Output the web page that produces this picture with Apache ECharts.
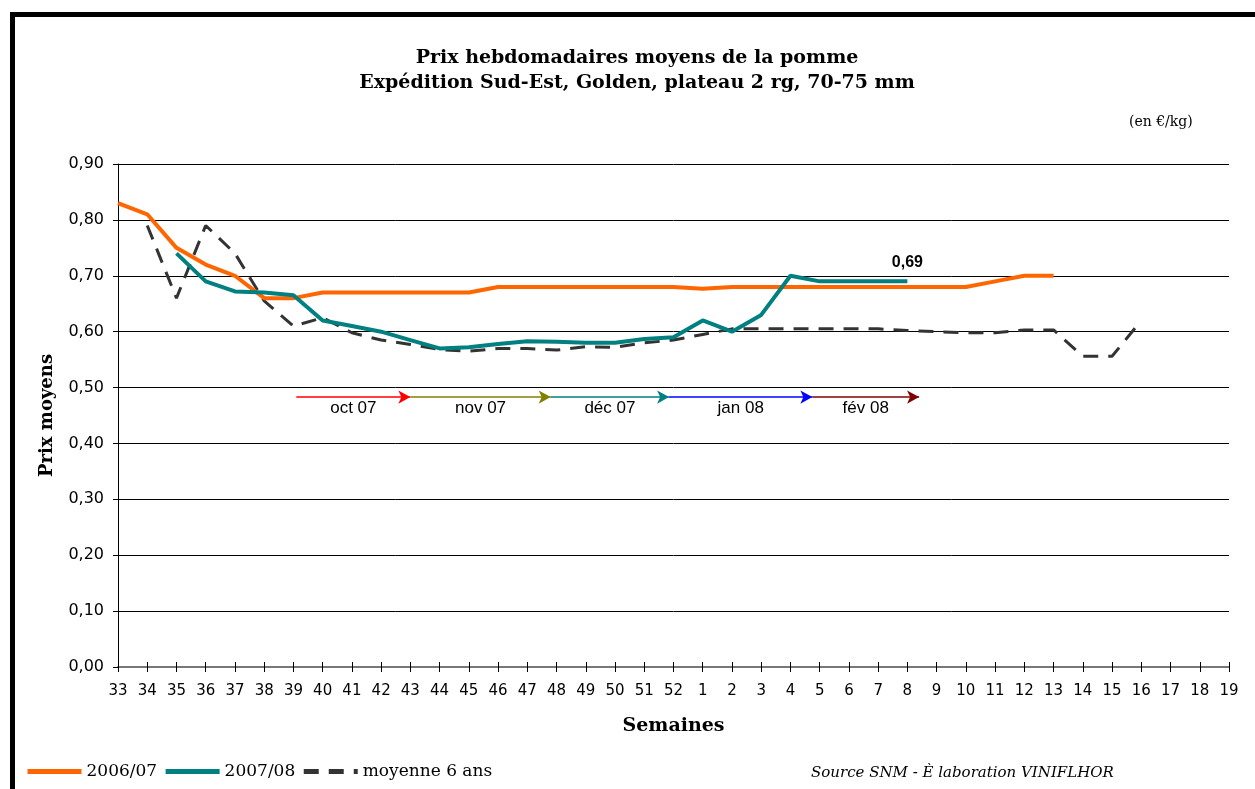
<!DOCTYPE html>
<html lang="fr">
<head>
  <meta charset="UTF-8">
  <title>Prix hebdomadaires moyens de la pomme</title>
  <script src="https://cdn.jsdelivr.net/npm/echarts@6/dist/echarts.min.js"></script>
  <style>
    body { margin: 0; padding: 0; background: #fff; }
    #chart { width: 1255px; height: 789px; }
  </style>
</head>
<body>
  <div id="chart"></div>
  <script>
    // semaines (axe x)
    const weeks = ['33','34','35','36','37','38','39','40','41','42','43','44','45','46','47','48','49','50','51','52',
      '1','2','3','4','5','6','7','8','9','10','11','12','13','14','15','16','17','18','19'];

    // prix en €/kg, null = pas de donnée
    const prix0607 = [0.83,0.81,0.75,0.72,0.70,0.66,0.66,0.67,0.67,0.67,0.67,0.67,0.67,0.68,0.68,0.68,0.68,0.68,0.68,0.68,
      0.677,0.68,0.68,0.68,0.68,0.68,0.68,0.68,0.68,0.68,0.69,0.70,0.70,null,null,null,null,null,null];
    const prix0708 = [null,null,0.74,0.69,0.672,0.67,0.665,0.62,0.61,0.60,0.585,0.57,0.572,0.578,0.583,0.582,0.58,0.58,0.587,0.59,
      0.62,0.60,0.63,0.70,0.69,0.69,0.69,0.69,null,null,null,null,null,null,null,null,null,null,null];
    const moyenne6 = [null,0.79,0.66,0.79,0.74,0.655,0.61,0.625,0.598,0.585,0.577,0.568,0.565,0.57,0.57,0.567,0.573,0.572,0.58,0.585,
      0.595,0.605,0.605,0.605,0.605,0.605,0.605,0.602,0.60,0.598,0.598,0.603,0.603,0.556,0.556,0.62,null,null,null];

    // flèches des mois (positions en index de semaine)
    const moisLabels = ['oct 07','nov 07','déc 07','jan 08','fév 08'];
    const moisDebut = [6.1, 10.0, 14.8, 18.85, 23.75];
    const moisFin = [10.0, 14.8, 18.85, 23.75, 27.4];
    const moisCouleurs = ['#ff0000','#808000','#008080','#0000ff','#800000'];
    const niveauFleches = 0.483;

    const toPairs = arr => arr.map((v, i) => [i, v]).filter(p => p[1] !== null);
    const fmtY = v => v.toFixed(2).replace('.', ',');

    const data0708 = toPairs(prix0708);
    const last0708 = data0708[data0708.length - 1];

    const markData = moisLabels.map((m, i) => [
      { name: m, coord: [moisDebut[i], niveauFleches], lineStyle: { color: moisCouleurs[i] }, itemStyle: { color: moisCouleurs[i] } },
      { coord: [moisFin[i], niveauFleches] }
    ]);

    const chart = echarts.init(document.getElementById('chart'));

    const xBase = {
      type: 'value', min: 0, max: 38, interval: 1,
      splitLine: { show: false }
    };

    chart.setOption({
      animation: false,
      title: [{
        text: '(en €/kg)',
        left: 1124, top: 110,
        textStyle: { fontFamily: 'DejaVu Serif', fontWeight: 'normal', fontSize: 14, color: '#000' }
      }, {
        text: 'Source SNM - È laboration VINIFLHOR',
        left: 806, top: 761,
        textStyle: { fontFamily: 'DejaVu Serif', fontStyle: 'italic', fontWeight: 'normal', fontSize: 15, color: '#000' }
      }],
      legend: {
        left: 25, top: 763, padding: 0,
        itemWidth: 54, itemHeight: 18, itemGap: 6,
        itemStyle: { opacity: 0 },
        lineStyle: { width: 5 },
        textStyle: { fontFamily: 'DejaVu Serif', fontSize: 17, color: '#000' },
        data: ['2006/07', '2007/08', 'moyenne 6 ans']
      },
      graphic: [
        { type: 'rect', shape: { x: 10, y: 12, width: 1245, height: 5 }, style: { fill: '#000' } },
        { type: 'rect', shape: { x: 10, y: 12, width: 5, height: 777 }, style: { fill: '#000' } },
        {
          type: 'text', x: 637, y: 46,
          style: {
            text: 'Prix hebdomadaires moyens de la pomme\nExpédition Sud-Est, Golden, plateau 2 rg, 70-75 mm',
            textAlign: 'center', fill: '#000', lineHeight: 25,
            font: 'bold 19px "DejaVu Serif"'
          }
        }
      ],
      grid: { left: 118, right: 26, top: 164, bottom: 122 },
      xAxis: [Object.assign({}, xBase, {
        name: 'Semaines', nameLocation: 'middle', nameGap: 50,
        nameTextStyle: { fontFamily: 'DejaVu Serif', fontWeight: 'bold', fontSize: 19, color: '#000' },
        axisLine: { lineStyle: { color: '#777', width: 2 } },
        axisTick: { length: 5, lineStyle: { color: '#000' } },
        axisLabel: {
          formatter: v => weeks[v], margin: 17,
          fontFamily: 'DejaVu Sans', fontSize: 15, color: '#000'
        }
      }), Object.assign({}, xBase, {
        position: 'bottom',
        axisLine: { show: false },
        axisTick: { inside: true, length: 5, lineStyle: { color: '#000' } },
        axisLabel: { show: false }
      })],
      yAxis: {
        type: 'value', min: 0, max: 0.9, interval: 0.1,
        name: 'Prix moyens', nameLocation: 'middle', nameGap: 62,
        nameTextStyle: { fontFamily: 'DejaVu Serif', fontWeight: 'bold', fontSize: 18, color: '#000' },
        axisLine: { show: true, lineStyle: { color: '#000' } },
        axisTick: { show: true, length: 5, lineStyle: { color: '#000' } },
        axisLabel: { formatter: fmtY, margin: 14, fontFamily: 'DejaVu Sans', fontSize: 16, color: '#000' },
        splitLine: { lineStyle: { color: '#000', width: 1 } }
      },
      series: [{
        name: '2006/07', type: 'line', data: toPairs(prix0607),
        symbol: 'none', z: 3,
        lineStyle: { color: '#ff6600', width: 4 }, itemStyle: { color: '#ff6600' },
        markLine: {
          silent: true, symbol: ['none', 'arrow'], symbolSize: [10, 12], precision: 3,
          lineStyle: { type: 'solid', width: 1.5 },
          label: {
            show: true, position: 'insideMiddleBottom', distance: 3,
            formatter: '{b}', fontFamily: 'Liberation Sans', fontSize: 17, color: '#000'
          },
          data: markData
        }
      }, {
        name: '2007/08', type: 'line', data: data0708,
        symbol: 'none', z: 4,
        lineStyle: { color: '#008080', width: 4 }, itemStyle: { color: '#008080' },
        markPoint: {
          silent: true, symbol: 'circle', symbolSize: 1,
          itemStyle: { color: 'rgba(0,0,0,0)' },
          label: {
            show: true, position: 'top', distance: 10,
            formatter: p => fmtY(p.data.coord[1]),
            fontFamily: 'Liberation Sans', fontWeight: 'bold', fontSize: 16, color: '#000'
          },
          data: [{ coord: last0708 }]
        }
      }, {
        name: 'moyenne 6 ans', type: 'line', data: toPairs(moyenne6),
        symbol: 'none', z: 2,
        lineStyle: { color: '#333', width: 3, type: [15, 10] }, itemStyle: { color: '#333' }
      }]
    });
  </script>
</body>
</html>
